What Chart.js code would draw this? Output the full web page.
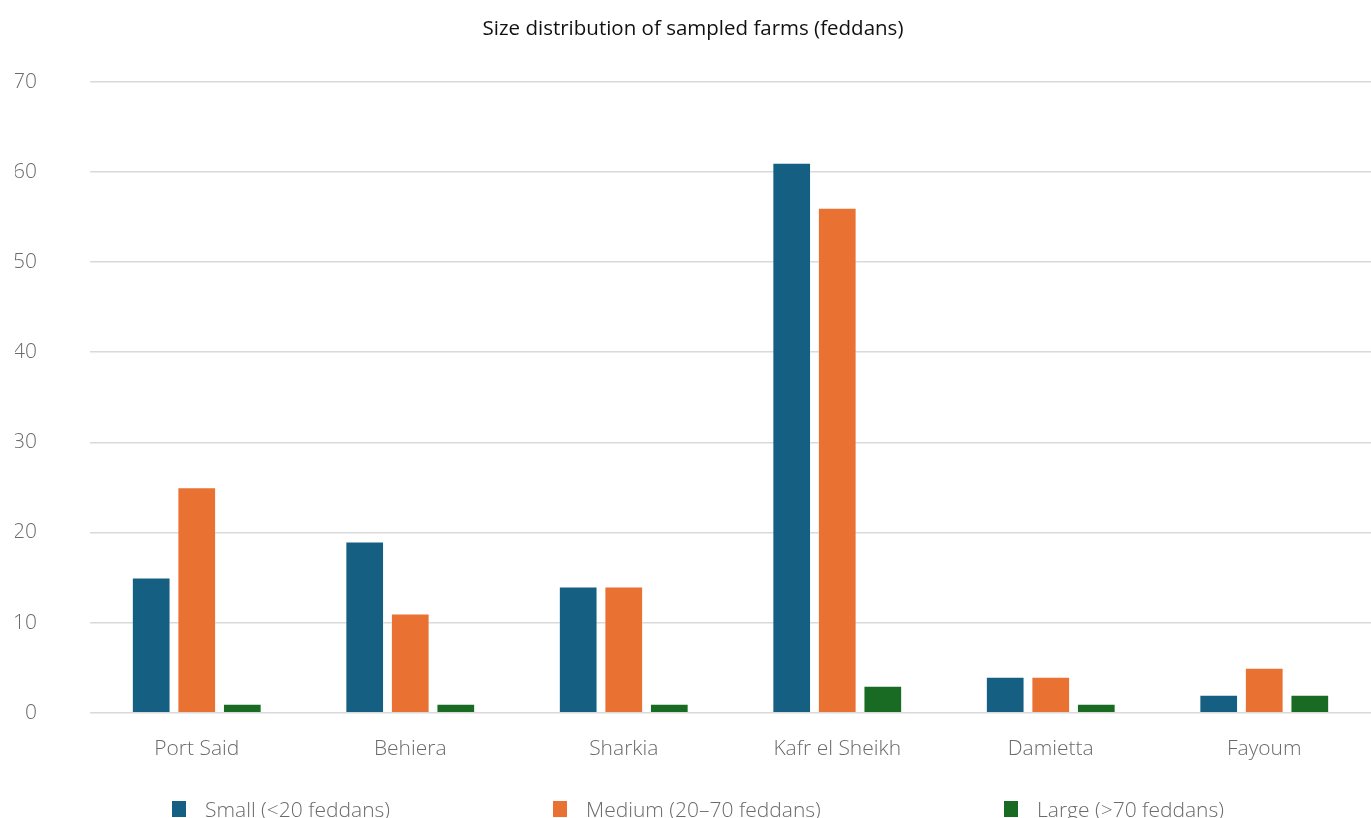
<!DOCTYPE html>
<html>
<head>
<meta charset="utf-8">
<script src="https://cdn.jsdelivr.net/npm/chart.js@4"></script>
<style>
  html, body { margin: 0; padding: 0; background: #fff; overflow: hidden; }
  #wrap { width: 1371px; height: 818px; position: relative; overflow: hidden; }
  #legend { position: absolute; left: 0; top: 795px; width: 1371px; height: 30px; }
  .legend-item { position: absolute; top: 0; display: flex; align-items: center;
    font-family: "Open Sans", sans-serif; font-weight: 300; font-size: 21px; color: #6b6b6b;
    white-space: nowrap; }
  .legend-box { width: 14px; height: 16px; margin-right: 19px; }
</style>
</head>
<body>
<div id="wrap">
  <canvas id="farmChart"></canvas>
  <div id="legend"></div>
</div>
<script>
const regions = ["Port Said", "Behiera", "Sharkia", "Kafr el Sheikh", "Damietta", "Fayoum"];
const smallFarms = [15, 19, 14, 61, 4, 2];
const mediumFarms = [25, 11, 14, 56, 4, 5];
const largeFarms = [1, 1, 1, 3, 1, 2];
const yTicks = [0, 10, 20, 30, 40, 50, 60, 70];

const ctx = document.getElementById("farmChart").getContext("2d");

function barSet(label, values, color) {
  return {
    label: label,
    data: values,
    backgroundColor: color,
    borderColor: "rgba(255,255,255,0.35)",
    borderWidth: 1,
    barPercentage: 0.85,
    categoryPercentage: 0.64,
  };
}

const tickFont = { family: "Open Sans", size: 21, weight: 300 };

const chart = new Chart(ctx, {
  type: "bar",
  data: {
    labels: regions,
    datasets: [
      barSet("Small (<20 feddans)", smallFarms, "#156082"),
      barSet("Medium (20\u201370 feddans)", mediumFarms, "#E97132"),
      barSet("Large (>70 feddans)", largeFarms, "#196B24"),
    ],
  },
  options: {
    responsive: true,
    maintainAspectRatio: false,
    animation: false,
    layout: {
      padding: { left: 15, right: 0, top: 0, bottom: 40 },
    },
    scales: {
      y: {
        min: 0,
        max: 70,
        afterBuildTicks: function (axis) {
          axis.ticks = yTicks.map((v) => ({ value: v }));
        },
        afterFit: function (scale) {
          scale.width = 75;
        },
        grid: {
          color: "#d9d9d9",
          lineWidth: 1.5,
          drawTicks: false,
        },
        border: { display: false },
        ticks: {
          color: "#6b6b6b",
          padding: 53,
          font: tickFont,
        },
      },
      x: {
        grid: { display: false },
        border: { display: false },
        ticks: {
          color: "#6b6b6b",
          padding: 16,
          font: tickFont,
        },
      },
    },
    plugins: {
      title: {
        display: true,
        text: "Size distribution of sampled farms (feddans)",
        color: "#111",
        font: { family: "Open Sans", size: 20.5, weight: 400 },
        padding: { top: 17, bottom: 40 },
      },
      legend: { display: false },
      tooltip: { enabled: false },
    },
  },
});

// html legend under the plot, same spacing as the original figure
const legendLefts = [172, 553, 1004];
function createLegend() {
  const box = document.getElementById("legend");
  box.innerHTML = "";
  chart.data.datasets.forEach((ds, i) => {
    const item = document.createElement("div");
    item.className = "legend-item";
    item.style.left = legendLefts[i] + "px";
    item.innerHTML = `<div class="legend-box" style="background:${ds.backgroundColor}"></div><span></span>`;
    item.querySelector("span").textContent = ds.label;
    box.appendChild(item);
  });
}
createLegend();
</script>
</body>
</html>
